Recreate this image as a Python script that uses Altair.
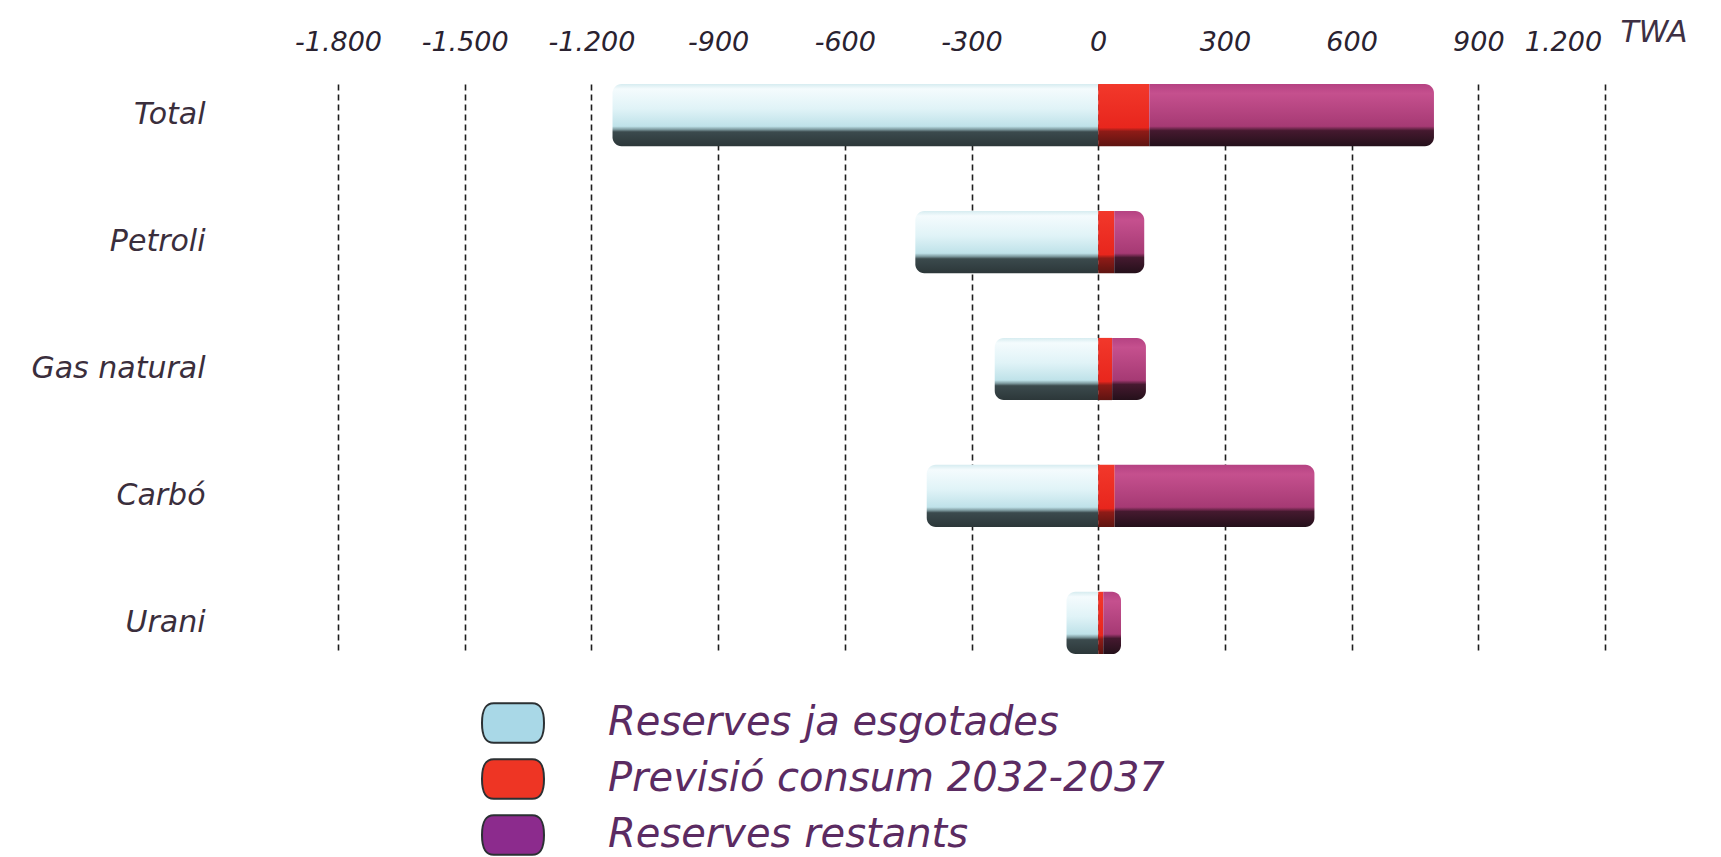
import altair as alt
import pandas as pd

# Energy reserves by source (TWA): already exhausted, 2032-2037 consumption forecast, remaining
categories = ["Total", "Petroli", "Gas natural", "Carbó", "Urani"]
exhausted = [1150, 433, 245, 406, 75]
forecast = [121, 38, 33, 39, 12]
remaining = [674, 71, 80, 473, 42]

series_names = ["Reserves ja esgotades", "Previsió consum 2032-2037", "Reserves restants"]
series_colors = ["#a9d8e7", "#ee3524", "#8c2b8d"]
x_ticks = [-1800, -1500, -1200, -900, -600, -300, 0, 300, 600, 900, 1200]

rows = []
for cat, e, f, r in zip(categories, exhausted, forecast, remaining):
    rows.append({"categoria": cat, "serie": series_names[0], "inici": 0, "fi": -e})
    rows.append({"categoria": cat, "serie": series_names[1], "inici": 0, "fi": f})
    rows.append({"categoria": cat, "serie": series_names[2], "inici": f, "fi": f + r})
df = pd.DataFrame(rows)

FONT = "DejaVu Sans"


def vgrad(stops):
    return alt.Gradient(
        gradient="linear", x1=0, x2=0, y1=0, y2=1,
        stops=[alt.GradientStop(offset=o, color=c) for o, c in stops],
    )


grad_blue = vgrad([(0, "#d6ecf0"), (0.08, "#f4fbfd"), (0.4, "#e0f3f7"), (0.68, "#bfe2e9"),
                   (0.73, "#7f9ca1"), (0.77, "#3b4a4d"), (1, "#2c3739")])
grad_red = vgrad([(0, "#f2382b"), (0.7, "#e8261d"), (0.76, "#8e1b17"), (1, "#5e1411")])
grad_mag = vgrad([(0, "#b54282"), (0.15, "#c5508e"), (0.68, "#a63a74"),
                  (0.75, "#45192f"), (1, "#24101a")])

x_enc = alt.X(
    "inici:Q",
    scale=alt.Scale(domain=[-1800, 1200], nice=False, zero=False),
    axis=alt.Axis(
        orient="top", values=x_ticks,
        labelExpr="(datum.value < 0 ? '-' : '') + replace(format(abs(datum.value), ','), ',', '.')",
        grid=True, gridDash=[6, 4], gridColor="#1e1e1e", gridWidth=1.6,
        ticks=False, domain=False,
        labelFont=FONT, labelFontStyle="italic", labelFontSize=27, labelColor="#2a2230",
        labelPadding=28, labelOverlap=False, labelFlush=False,
        labelOffset={"condition": {"test": "datum.value == 1200", "value": -42}, "value": 0},
        title="TWA", titleX=1282, titleY=-52, titleAlign="left", titleBaseline="middle",
        titleFont=FONT, titleFontSize=30, titleFontWeight="normal", titleFontStyle="italic",
        titleColor="#3e3044", titleAngle=0,
    ),
)
y_enc = alt.Y(
    "categoria:N", sort=categories,
    scale=alt.Scale(paddingInner=0.51, paddingOuter=0),
    axis=alt.Axis(
        title=None, ticks=False, domain=False, grid=False,
        labelFont=FONT, labelFontStyle="italic", labelFontSize=30, labelColor="#3a2e3c",
        labelPadding=133, labelLimit=400,
    ),
)

legend_shape = ("M -0.62 -0.64 L 0.62 -0.64 C 0.9 -0.64 1 -0.42 1 0 C 1 0.42 0.9 0.64 0.62 0.64 "
                "L -0.62 0.64 C -0.9 0.64 -1 0.42 -1 0 C -1 -0.42 -0.9 -0.64 -0.62 -0.64 Z")

base = alt.Chart(df)

legend_layer = base.mark_point(opacity=0, filled=True).encode(
    x=x_enc, y=y_enc,
    color=alt.Color(
        "serie:N", sort=series_names,
        scale=alt.Scale(domain=series_names, range=series_colors),
        legend=alt.Legend(
            orient="none", legendX=143, legendY=607, title=None, direction="vertical",
            symbolType=legend_shape, symbolSize=3844, symbolStrokeColor="#2b3033",
            symbolStrokeWidth=2, symbolOpacity=1,
            labelFont=FONT, labelFontSize=40, labelFontStyle="italic", labelColor="#5b2b62",
            labelOffset=63, labelLimit=1000, rowPadding=-4, padding=0,
        ),
    ),
)

bar_blue = base.transform_filter(alt.datum.serie == series_names[0]).mark_bar(
    fill=grad_blue, cornerRadiusTopLeft=9, cornerRadiusBottomLeft=9
).encode(x=x_enc, x2="fi:Q", y=y_enc)

bar_red = base.transform_filter(alt.datum.serie == series_names[1]).mark_bar(
    fill=grad_red
).encode(x=x_enc, x2="fi:Q", y=y_enc)

bar_mag = base.transform_filter(alt.datum.serie == series_names[2]).mark_bar(
    fill=grad_mag, cornerRadiusTopRight=9, cornerRadiusBottomRight=9
).encode(x=x_enc, x2="fi:Q", y=y_enc)

chart = alt.layer(legend_layer, bar_blue, bar_red, bar_mag).properties(
    width=1267, height=570,
    autosize=alt.AutoSizeParams(type="none"),
    padding={"left": 338, "top": 84, "right": 116, "bottom": 203},
    background="white",
).configure_view(strokeWidth=0)

chart.save("out.html", embed_options={"renderer": "svg", "actions": False})
